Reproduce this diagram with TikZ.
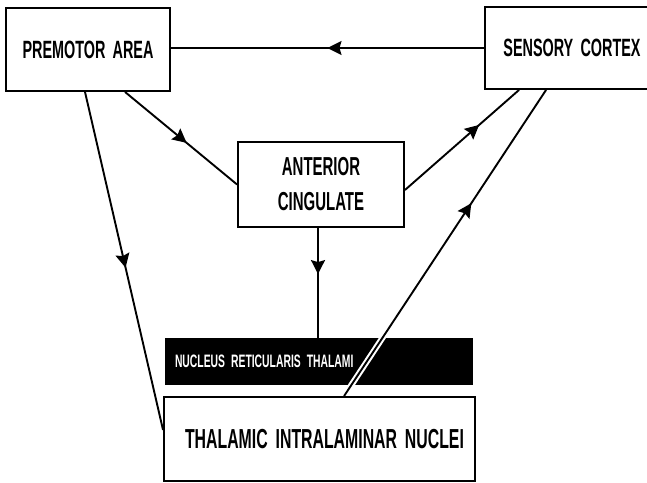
\documentclass[tikz,border=0pt]{standalone}
\usepackage{fontspec}
\newfontfamily\diagfont{Liberation Sans}[FakeStretch=0.576,WordSpace=1.8]
\usetikzlibrary{arrows.meta,decorations.markings}

\tikzset{
  area/.style={draw, line width=1.9pt, inner sep=0pt,
    font=\diagfont\bfseries\fontsize{25}{30}\selectfont},
  link/.style={line width=1.9pt},
  mid arrow/.style={postaction={decorate, decoration={markings,
    mark=at position #1 with {\arrow{Stealth[length=14pt,width=14pt,inset=2pt]}}}}},
}

\begin{document}
\begin{tikzpicture}[x=1pt,y=-1pt]
\useasboundingbox (0,0) rectangle (647,482);

% areas:
\node[area, minimum width=164pt, minimum height=83pt] (pma) at (88,49.5) {PREMOTOR AREA};
\node[area, minimum width=174pt, minimum height=82pt] (sc) at (572,48) {SENSORY CORTEX};
\node[area, align=center, minimum width=166pt, minimum height=85pt,
  font=\diagfont\bfseries\fontsize{26}{35}\selectfont] (ac) at (321,184.5) {ANTERIOR\\CINGULATE};

% reticular nucleus:
\node[fill=black, text=white, minimum width=308pt, minimum height=47pt, inner ysep=0pt,
  inner xsep=10pt, text width=288pt, align=left,
  font=\diagfont\bfseries\fontsize{18}{20}\selectfont] (nrt) at (319,361.5) {NUCLEUS RETICULARIS THALAMI};

% thalamus:
\node[area, minimum width=311pt, minimum height=84pt,
  font=\diagfont\bfseries\fontsize{27.5}{30}\selectfont] (tin) at (319.5,439) {\hspace*{10pt}THALAMIC INTRALAMINAR NUCLEI};

% pathways:
\draw[link, mid arrow=0.5] (sc.west) -- (sc.west -| pma.east);
\draw[link, mid arrow=0.55] ([xshift=37pt]pma.south) -- (ac.west);
\draw[link, mid arrow=0.65] ([yshift=-5.5pt]ac.east) -- ([xshift=35pt]sc.south west);
\draw[link, mid arrow=0.52] ([xshift=-3pt]pma.south) -- ([yshift=9pt]tin.west);
\draw[link, mid arrow=0.42] ([xshift=-3pt]ac.south) -- ([xshift=-3pt]ac.south |- nrt.north);

% crossing the reticular nucleus:
\draw[link, mid arrow=0.63, preaction={draw, white, line width=6pt, shorten <=4pt, shorten >=4pt}]
  ([xshift=181pt]tin.north west) -- ([xshift=62pt]sc.south west);
\end{tikzpicture}
\end{document}
